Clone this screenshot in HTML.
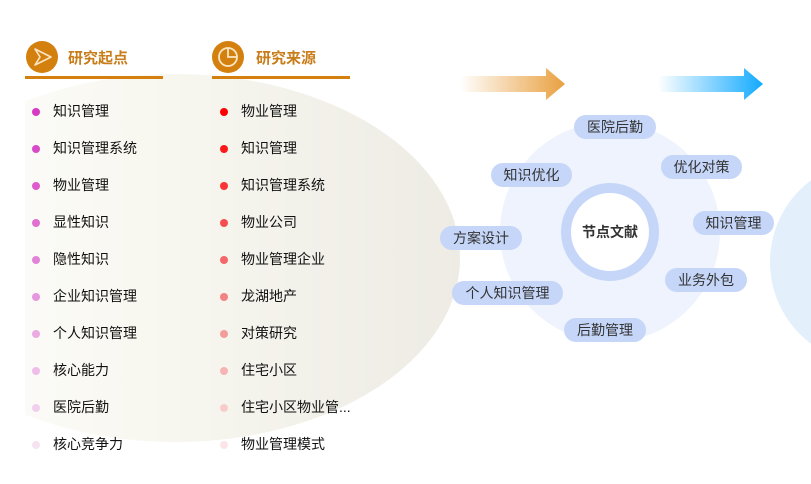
<!DOCTYPE html>
<html><head><meta charset="utf-8"><style>
body{margin:0;width:811px;height:484px;overflow:hidden;background:#fff;position:relative;font-family:"Liberation Sans","Noto Sans CJK SC",sans-serif}
.a{position:absolute}
.pill{position:absolute;height:24px;line-height:24px;border-radius:12px;background:#c5d6f8;color:#333;font-size:14px;text-align:center}
.li{position:absolute;font-size:14px;color:#111;line-height:20px}
.dot{position:absolute;width:8px;height:8px;border-radius:50%}
.h{position:absolute;font-size:15px;font-weight:bold;color:#c87d1a}
</style></head><body>
<svg class="a" style="left:0;top:0" width="811" height="484">
<defs>
<linearGradient id="bg" x1="0" x2="1"><stop offset="0" stop-color="#ffffff"/><stop offset="0.45" stop-color="#f8f7f0"/><stop offset="1" stop-color="#edebe4"/></linearGradient>
<linearGradient id="og" x1="0" x2="1"><stop offset="0" stop-color="#e9a040" stop-opacity="0"/><stop offset="1" stop-color="#e9a040"/></linearGradient>
<linearGradient id="bl" x1="0" x2="1"><stop offset="0" stop-color="#12aaff" stop-opacity="0"/><stop offset="1" stop-color="#12aaff"/></linearGradient>
</defs>
<ellipse cx="175" cy="258" rx="285" ry="184" fill="url(#bg)"/>
<rect x="0" y="0" width="25" height="484" fill="#fff"/>
<circle cx="610" cy="232" r="110" fill="#eef3fd"/>
<circle cx="610" cy="232" r="44" fill="#fff" stroke="#c5d6f8" stroke-width="10"/>
<circle cx="872" cy="262" r="102" fill="#e3f0fb"/>
<polygon points="460,76 546,76 546,68 565,84 546,100 546,92 460,92" fill="url(#og)"/>
<polygon points="658,76 744,76 744,68 763,84 744,100 744,92 658,92" fill="url(#bl)"/>
<circle cx="42" cy="57" r="16" fill="#d4800f"/>
<path d="M35 49 L51 57 L35 65 L40 57 Z" fill="none" stroke="#fbe6c4" stroke-width="1.6" stroke-linejoin="round"/>
<circle cx="228" cy="57" r="16" fill="#d4800f"/>
<circle cx="228" cy="57" r="9" fill="none" stroke="#fbe6c4" stroke-width="1.8"/>
<path d="M228 48 V57 H237" fill="none" stroke="#fbe6c4" stroke-width="1.8"/>
<rect x="25" y="76" width="138" height="3" fill="#d4800f"/>
<rect x="212" y="76" width="138" height="3" fill="#d4800f"/>
</svg>
<div class="h" style="left:68px;top:47px">研究起点</div>
<div class="h" style="left:256px;top:47px">研究来源</div>
<div class="a" style="left:572px;top:222px;width:76px;text-align:center;font-size:14px;font-weight:bold;color:#333">节点文献</div>
<div class="pill" style="left:574px;top:115px;width:82px">医院后勤</div>
<div class="pill" style="left:661px;top:155px;width:81px">优化对策</div>
<div class="pill" style="left:693px;top:211px;width:81px">知识管理</div>
<div class="pill" style="left:665px;top:268px;width:82px">业务外包</div>
<div class="pill" style="left:564px;top:318px;width:82px">后勤管理</div>
<div class="pill" style="left:452px;top:281px;width:111px">个人知识管理</div>
<div class="pill" style="left:440px;top:226px;width:82px">方案设计</div>
<div class="pill" style="left:491px;top:163px;width:81px">知识优化</div>

<div class="dot" style="left:32px;top:108px;background:#d63cc3"></div><div class="li" style="left:53px;top:101px">知识管理</div>
<div class="dot" style="left:32px;top:145px;background:#d94ac8"></div><div class="li" style="left:53px;top:138px">知识管理系统</div>
<div class="dot" style="left:32px;top:182px;background:#dd5ccd"></div><div class="li" style="left:53px;top:175px">物业管理</div>
<div class="dot" style="left:32px;top:219px;background:#e06fd2"></div><div class="li" style="left:53px;top:212px">显性知识</div>
<div class="dot" style="left:32px;top:256px;background:#e383d8"></div><div class="li" style="left:53px;top:249px">隐性知识</div>
<div class="dot" style="left:32px;top:293px;background:#e797dd"></div><div class="li" style="left:53px;top:286px">企业知识管理</div>
<div class="dot" style="left:32px;top:330px;background:#eaaae2"></div><div class="li" style="left:53px;top:323px">个人知识管理</div>
<div class="dot" style="left:32px;top:367px;background:#eebde8"></div><div class="li" style="left:53px;top:360px">核心能力</div>
<div class="dot" style="left:32px;top:404px;background:#f2d0ed"></div><div class="li" style="left:53px;top:397px">医院后勤</div>
<div class="dot" style="left:32px;top:441px;background:#f6e3f2"></div><div class="li" style="left:53px;top:434px">核心竞争力</div>

<div class="dot" style="left:220px;top:108px;background:#ff0000"></div><div class="li" style="left:241px;top:101px">物业管理</div>
<div class="dot" style="left:220px;top:145px;background:#fb1a1a"></div><div class="li" style="left:241px;top:138px">知识管理</div>
<div class="dot" style="left:220px;top:182px;background:#f83434"></div><div class="li" style="left:241px;top:175px">知识管理系统</div>
<div class="dot" style="left:220px;top:219px;background:#f54e4e"></div><div class="li" style="left:241px;top:212px">物业公司</div>
<div class="dot" style="left:220px;top:256px;background:#f36868"></div><div class="li" style="left:241px;top:249px">物业管理企业</div>
<div class="dot" style="left:220px;top:293px;background:#f38282"></div><div class="li" style="left:241px;top:286px">龙湖地产</div>
<div class="dot" style="left:220px;top:330px;background:#f49c9c"></div><div class="li" style="left:241px;top:323px">对策研究</div>
<div class="dot" style="left:220px;top:367px;background:#f6b4b4"></div><div class="li" style="left:241px;top:360px">住宅小区</div>
<div class="dot" style="left:220px;top:404px;background:#f9cccc"></div><div class="li" style="left:241px;top:397px">住宅小区物业管...</div>
<div class="dot" style="left:220px;top:441px;background:#fce4e8"></div><div class="li" style="left:241px;top:434px">物业管理模式</div>
</body></html>
